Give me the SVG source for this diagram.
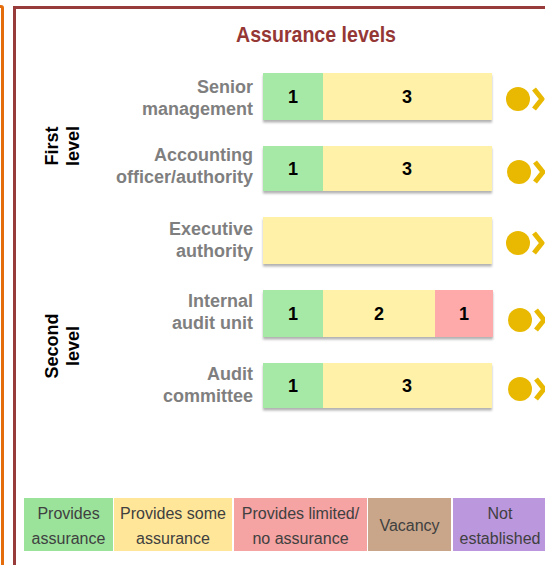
<svg xmlns="http://www.w3.org/2000/svg" width="545" height="565" viewBox="0 0 545 565">
<defs>
<filter id="sh" x="-5%" y="-20%" width="110%" height="150%">
<feDropShadow dx="0" dy="2.5" stdDeviation="1.2" flood-color="#7f7f7f" flood-opacity="0.6"/>
</filter>
<symbol id="dot" overflow="visible">
<circle cx="0" cy="0" r="12" fill="#e8b900"/>
<polyline points="16,-10 24,0 16,10" fill="none" stroke="#e8b900" stroke-width="5" stroke-linejoin="round"/>
</symbol>
</defs>
<style>
.title{font-family:"Liberation Sans",Arial,sans-serif;font-weight:bold;font-size:22px;fill:#953735;text-anchor:middle}
.lab{font-family:"Liberation Sans",Arial,sans-serif;font-weight:bold;font-size:18px;fill:#7f7f7f;text-anchor:end}
.lvl{font-family:"Liberation Sans",Arial,sans-serif;font-weight:bold;font-size:18px;fill:#000;text-anchor:middle}
.num{font-family:"Liberation Sans",Arial,sans-serif;font-weight:bold;font-size:18px;fill:#000;text-anchor:middle}
.leg{font-family:"Liberation Sans",Arial,sans-serif;font-size:16px;fill:#404040;text-anchor:middle}
.g{fill:#a6e9a6}.y{fill:#fff2a8}.r{fill:#ffaaaa}
</style>
<rect width="545" height="565" fill="#fff"/>
<path d="M0,6.5 H1 Q2.5,6.5 2.5,8 V565" fill="none" stroke="#e46c0a" stroke-width="3"/>
<path d="M545,7.5 H14.5 V565" fill="none" stroke="#983b3b" stroke-width="3"/>
<text class="title" x="316" y="42" textLength="160" lengthAdjust="spacingAndGlyphs">Assurance levels</text>

<g id="levels">
<text class="lvl" transform="translate(58,146) rotate(-90)">First</text>
<text class="lvl" transform="translate(79,146) rotate(-90)">level</text>
<text class="lvl" transform="translate(58,346) rotate(-90)">Second</text>
<text class="lvl" transform="translate(79,346) rotate(-90)">level</text>
</g>

<g id="senior-management">
<text class="lab" x="253" y="93">Senior</text>
<text class="lab" x="253" y="115">management</text>
<g filter="url(#sh)">
<rect class="g" x="263" y="73" width="60" height="47"/>
<rect class="y" x="323" y="73" width="169" height="47"/>
</g>
<text class="num" x="293" y="103">1</text>
<text class="num" x="407" y="103">3</text>
<use href="#dot" x="518" y="99"/>
</g>

<g id="accounting-officer">
<text class="lab" x="253" y="161">Accounting</text>
<text class="lab" x="253" y="183">officer/authority</text>
<g filter="url(#sh)">
<rect class="g" x="263" y="146" width="60" height="45"/>
<rect class="y" x="323" y="146" width="169" height="45"/>
</g>
<text class="num" x="293" y="175">1</text>
<text class="num" x="407" y="175">3</text>
<use href="#dot" x="519" y="172"/>
</g>

<g id="executive-authority">
<text class="lab" x="253" y="235">Executive</text>
<text class="lab" x="253" y="257">authority</text>
<g filter="url(#sh)">
<rect class="y" x="263" y="217" width="229" height="47"/>
</g>
<use href="#dot" x="518" y="243"/>
</g>

<g id="internal-audit-unit">
<text class="lab" x="253" y="307">Internal</text>
<text class="lab" x="253" y="329">audit unit</text>
<g filter="url(#sh)">
<rect class="g" x="263" y="290" width="60" height="47"/>
<rect class="y" x="323" y="290" width="112" height="47"/>
<rect class="r" x="435" y="290" width="58" height="47"/>
</g>
<text class="num" x="293" y="320">1</text>
<text class="num" x="379" y="320">2</text>
<text class="num" x="464" y="320">1</text>
<use href="#dot" x="520" y="320"/>
</g>

<g id="audit-committee">
<text class="lab" x="253" y="380">Audit</text>
<text class="lab" x="253" y="402">committee</text>
<g filter="url(#sh)">
<rect class="g" x="263" y="363" width="60" height="45"/>
<rect class="y" x="323" y="363" width="169" height="45"/>
</g>
<text class="num" x="293" y="392">1</text>
<text class="num" x="407" y="392">3</text>
<use href="#dot" x="520" y="389"/>
</g>

<g id="legend">
<rect x="24" y="498" width="89" height="53" fill="#9be39b"/>
<rect x="114" y="498" width="118" height="53" fill="#ffe699"/>
<rect x="234" y="498" width="133" height="53" fill="#f5a3a3"/>
<rect x="368" y="498" width="83" height="53" fill="#c9a68a"/>
<rect x="453" y="498" width="92" height="53" fill="#bb97de"/>
<text class="leg" x="68.5" y="519">Provides</text>
<text class="leg" x="68.5" y="544">assurance</text>
<text class="leg" x="173" y="519">Provides some</text>
<text class="leg" x="173" y="544">assurance</text>
<text class="leg" x="300.5" y="519">Provides limited/</text>
<text class="leg" x="300.5" y="544">no assurance</text>
<text class="leg" x="409.5" y="531">Vacancy</text>
<text class="leg" x="500" y="519">Not</text>
<text class="leg" x="500" y="544">established</text>
</g>
</svg>
